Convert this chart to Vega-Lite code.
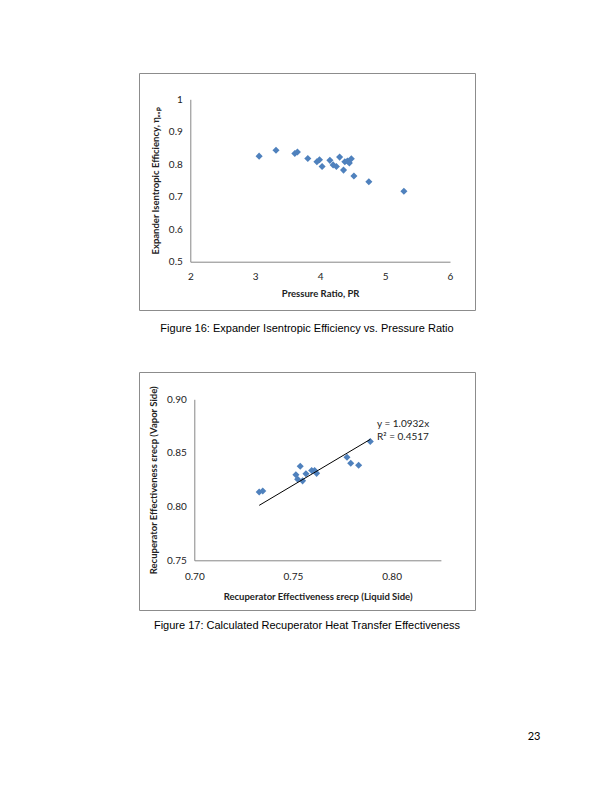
{
  "$schema": "https://vega.github.io/schema/vega-lite/v6.json",
  "background": "white",
  "padding": {"left": 138, "top": 72, "right": 0, "bottom": 0},
  "spacing": 36,
  "config": {
    "view": {"stroke": "#8c8c8c", "strokeWidth": 1},
    "axis": {
      "domainColor": "#868686", "domainWidth": 1, "grid": false, "ticks": false, "labelFlush": false,
      "labelFont": "Lato", "labelFontSize": 10, "labelColor": "#222",
      "titleFont": "Lato", "titleFontSize": 9.5, "titleFontWeight": "bold", "titleColor": "#222"
    }
  },
  "title": {"text": "23", "orient": "bottom", "anchor": "end", "dx": 65, "offset": 99, "font": "Lato", "fontSize": 11, "fontWeight": "normal", "color": "#000"},
  "datasets": {
    "expander": [
      {"pr": 3.06, "eff": 0.825}, {"pr": 3.32, "eff": 0.843}, {"pr": 3.61, "eff": 0.833},
      {"pr": 3.65, "eff": 0.838}, {"pr": 3.81, "eff": 0.818}, {"pr": 3.95, "eff": 0.808},
      {"pr": 3.99, "eff": 0.814}, {"pr": 4.03, "eff": 0.793}, {"pr": 4.15, "eff": 0.812},
      {"pr": 4.20, "eff": 0.798}, {"pr": 4.25, "eff": 0.793}, {"pr": 4.30, "eff": 0.822},
      {"pr": 4.36, "eff": 0.782}, {"pr": 4.38, "eff": 0.808}, {"pr": 4.42, "eff": 0.810},
      {"pr": 4.45, "eff": 0.804}, {"pr": 4.48, "eff": 0.817}, {"pr": 4.52, "eff": 0.764},
      {"pr": 4.75, "eff": 0.746}, {"pr": 5.29, "eff": 0.717}
    ],
    "recuperator": [
      {"liquid": 0.7329, "vapor": 0.8136}, {"liquid": 0.7347, "vapor": 0.8145},
      {"liquid": 0.7515, "vapor": 0.8297}, {"liquid": 0.7537, "vapor": 0.8377},
      {"liquid": 0.7524, "vapor": 0.8255}, {"liquid": 0.7549, "vapor": 0.8240},
      {"liquid": 0.7566, "vapor": 0.8307}, {"liquid": 0.7595, "vapor": 0.8336},
      {"liquid": 0.7610, "vapor": 0.8336}, {"liquid": 0.7620, "vapor": 0.8310},
      {"liquid": 0.7774, "vapor": 0.8460}, {"liquid": 0.7793, "vapor": 0.8404},
      {"liquid": 0.7833, "vapor": 0.8385}, {"liquid": 0.7892, "vapor": 0.8607}
    ],
    "trend": [
      {"liquid": 0.7329, "vapor": 0.8012}, {"liquid": 0.7892, "vapor": 0.8627}
    ],
    "trendlabel": [
      {"liquid": 0.7926, "vapor": 0.8773, "label": "y = 1.0932x"},
      {"liquid": 0.7926, "vapor": 0.8649, "label": "R² = 0.4517"}
    ]
  },
  "vconcat": [
    {
      "width": 336, "height": 237,
      "title": {"text": "Figure 16: Expander Isentropic Efficiency vs. Pressure Ratio", "orient": "bottom", "anchor": "middle", "offset": 13, "font": "Liberation Sans", "fontSize": 11, "fontWeight": "normal", "color": "#000"},
      "data": {"name": "expander"},
      "mark": {"type": "point", "shape": "diamond", "filled": true, "size": 50, "color": "#4F81BD", "opacity": 1},
      "encoding": {
        "x": {"field": "pr", "type": "quantitative",
          "scale": {"domain": [2, 6], "range": [51.3, 311], "nice": false, "zero": false},
          "axis": {"title": "Pressure Ratio, PR", "values": [2, 3, 4, 5, 6], "format": "d", "offset": -48.3, "labelPadding": 10, "titlePadding": 7}},
        "y": {"field": "eff", "type": "quantitative",
          "scale": {"domain": [0.5, 1], "range": [188.7, 26.3], "nice": false, "zero": false},
          "axis": {"title": "Expander Isentropic Efficiency, ηₑₓₚ", "values": [0.5, 0.6, 0.7, 0.8, 0.9, 1], "format": "~g", "offset": -51.3, "labelPadding": 8, "titlePadding": 8}}
      }
    },
    {
      "width": 336, "height": 238,
      "title": {"text": "Figure 17: Calculated Recuperator Heat Transfer Effectiveness", "orient": "bottom", "anchor": "middle", "offset": 10, "font": "Liberation Sans", "fontSize": 11, "fontWeight": "normal", "color": "#000"},
      "encoding": {
        "x": {"field": "liquid", "type": "quantitative",
          "scale": {"domain": [0.70, 0.825], "range": [55.3, 301.9], "nice": false, "zero": false},
          "axis": {"title": "Recuperator Effectiveness εrecp (Liquid Side)", "values": [0.70, 0.75, 0.80], "format": ".2f", "offset": -49.7, "labelPadding": 11, "titlePadding": 10}},
        "y": {"field": "vapor", "type": "quantitative",
          "scale": {"domain": [0.75, 0.90], "range": [188.3, 27.3], "nice": false, "zero": false},
          "axis": {"title": "Recuperator Effectiveness εrecp (Vapor Side)", "values": [0.75, 0.80, 0.85, 0.90], "format": ".2f", "offset": -55.3, "labelPadding": 8, "titlePadding": 8}}
      },
      "layer": [
        {
          "data": {"name": "recuperator"},
          "mark": {"type": "point", "shape": "diamond", "filled": true, "size": 50, "color": "#4F81BD", "opacity": 1}
        },
        {
          "data": {"name": "trend"},
          "mark": {"type": "line", "color": "#000", "strokeWidth": 1}
        },
        {
          "data": {"name": "trendlabel"},
          "mark": {"type": "text", "align": "left", "baseline": "middle", "font": "Lato", "fontSize": 10, "color": "#222"},
          "encoding": {"text": {"field": "label"}}
        }
      ]
    }
  ]
}
